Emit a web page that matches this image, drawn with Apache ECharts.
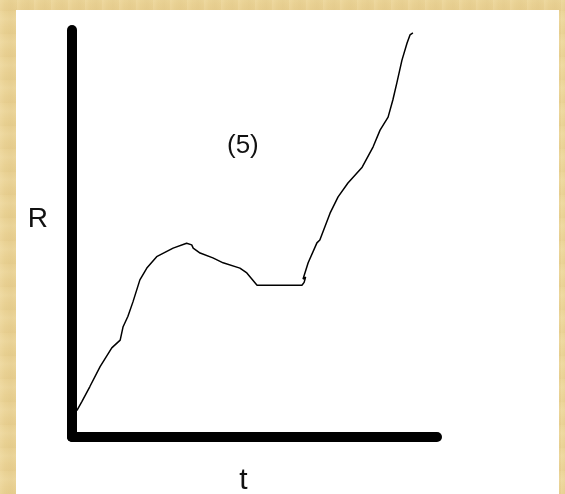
<!DOCTYPE html>
<html>
<head>
<meta charset="utf-8">
<script src="https://cdn.jsdelivr.net/npm/echarts@6/dist/echarts.min.js"></script>
<style>
  html, body { margin: 0; padding: 0; }
  body {
    width: 565px; height: 494px; overflow: hidden; position: relative;
    background-color: #e9d193;
    background-image:
      repeating-linear-gradient(90deg, rgba(255,240,200,0.18) 0px, rgba(255,240,200,0) 5px, rgba(200,170,100,0.08) 11px, rgba(255,240,200,0) 17px),
      repeating-linear-gradient(0deg, rgba(210,180,110,0.12) 0px, rgba(255,240,200,0) 7px, rgba(255,245,210,0.14) 15px, rgba(255,240,200,0) 23px);
  }
  #chart {
    position: absolute; left: 16px; top: 10px; width: 543px; height: 484px;
    background: #ffffff;
  }
</style>
</head>
<body>
<div id="chart"></div>
<script>
// Time and response along the sketched curve (t and R on a 0–10 scale)
const tValues = [0.03, 0.14, 0.27, 0.49, 0.77, 1.09, 1.32, 1.40, 1.53, 1.67, 1.86, 2.05, 2.32, 2.77, 3.14, 3.28,
                 3.32, 3.51, 3.86, 4.14, 4.60, 4.79, 5.07, 6.30, 6.36, 6.40, 6.33, 6.47, 6.71, 6.79, 7.07, 7.29,
                 7.56, 7.95, 8.25, 8.44, 8.66, 8.79, 8.90, 9.04, 9.18, 9.26, 9.34];
const rValues = [0.61, 0.66, 0.87, 1.24, 1.73, 2.19, 2.38, 2.71, 2.96, 3.32, 3.86, 4.15, 4.43, 4.64, 4.76, 4.72,
                 4.64, 4.52, 4.40, 4.28, 4.15, 4.03, 3.73, 3.73, 3.80, 3.93, 3.88, 4.28, 4.77, 4.84, 5.50, 5.90,
                 6.24, 6.63, 7.13, 7.54, 7.86, 8.28, 8.70, 9.26, 9.68, 9.88, 9.93];
const axisNames = { x: 't', y: 'R' };
const panelLabel = '(5)';

const curve = tValues.map((t, i) => [t, rValues[i]]);
const font = 'Liberation Sans, Arial, sans-serif';

const chart = echarts.init(document.getElementById('chart'), null, { renderer: 'canvas' });
chart.setOption({
  animation: false,
  backgroundColor: '#ffffff',
  title: {
    text: panelLabel,
    left: 206, top: 118,
    textStyle: { fontFamily: font, fontSize: 26, fontWeight: 'normal', color: '#111' }
  },
  grid: { left: 56, top: 20, width: 365, height: 407, containLabel: false, outerBoundsMode: 'none' },
  xAxis: {
    type: 'value', min: 0, max: 10,
    name: axisNames.x, nameLocation: 'middle', nameGap: 29,
    nameTextStyle: { fontFamily: font, fontSize: 30, color: '#111', padding: [0, 22, 0, 0] },
    axisLine: { show: true, onZero: false, lineStyle: { color: '#000', width: 10, cap: 'round' } },
    axisTick: { show: false }, axisLabel: { show: false }, splitLine: { show: false }
  },
  yAxis: {
    type: 'value', min: 0, max: 10,
    name: axisNames.y, nameLocation: 'middle', nameGap: 24, nameRotate: 0,
    nameTextStyle: { fontFamily: font, fontSize: 28, color: '#111', verticalAlign: 'bottom' },
    axisLine: { show: true, onZero: false, lineStyle: { color: '#000', width: 10, cap: 'round' } },
    axisTick: { show: false }, axisLabel: { show: false }, splitLine: { show: false }
  },
  series: [{
    type: 'line',
    data: curve,
    showSymbol: false,
    smooth: false,
    lineStyle: { color: '#000', width: 1.5 }
  }]
});
</script>
</body>
</html>
